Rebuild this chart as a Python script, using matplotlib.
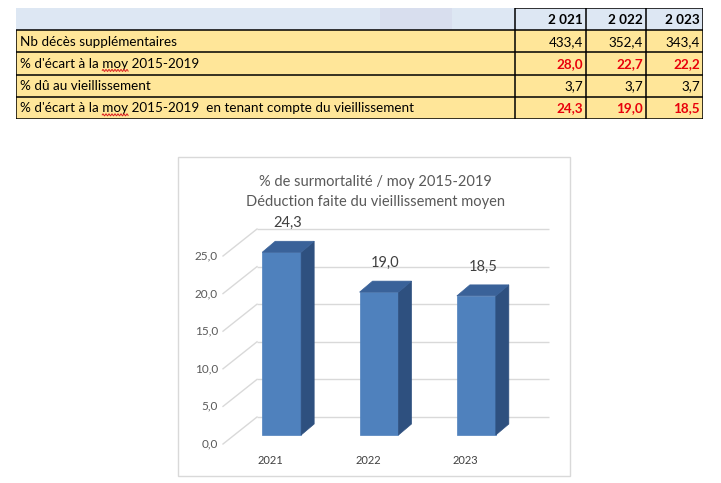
import numpy as np
import matplotlib
matplotlib.use("Agg")
import matplotlib.pyplot as plt
from matplotlib.patches import Rectangle, Polygon
from matplotlib.transforms import offset_copy, IdentityTransform
from matplotlib.lines import Line2D

# donnees du tableau
years = ["2 021", "2 022", "2 023"]
row_labels = ["Nb décès supplémentaires",
              "% d'écart à la moy 2015-2019",
              "% dû au vieillissement",
              "% d'écart à la moy 2015-2019  en tenant compte du vieillissement"]
deces_supp = [433.4, 352.4, 343.4]
ecart_moy = [28.0, 22.7, 22.2]
du_vieill = [3.7, 3.7, 3.7]
ecart_corrige = [24.3, 19.0, 18.5]
row_red = [False, True, False, True]

# donnees du graphique
bar_years = ["2021", "2022", "2023"]
y_ticks = [0, 5, 10, 15, 20, 25]

W, H = 721, 483
fig = plt.figure(figsize=(W / 100, H / 100), dpi=100)
fig.patch.set_facecolor("white")

FONT = "Lato"
YELLOW = "#FFE699"
BLUE_HDR = "#DDE7F3"
RED = "#E8000B"
TFS = 9.7


def fmt(v):
    return f"{v:.1f}".replace(".", ",")


# ---------------- TABLEAU ----------------
col_edges = [16, 515, 586, 646, 703]
ax_t = fig.add_axes([16 / W, 1 - 119 / H, 687 / W, 111 / H])
ax_t.set_xlim(16, 703)
ax_t.set_ylim(5, 0)
ax_t.axis("off")

# entete bleu clair
ax_t.add_patch(Rectangle((16, 0), 687, 1, facecolor=BLUE_HDR, edgecolor="none"))
ax_t.add_patch(Rectangle((380, 0), 72, 1, facecolor="#D8DEEE", edgecolor="none"))

table_rows = [deces_supp, ecart_moy, du_vieill, ecart_corrige]
for r, (lab, vals) in enumerate(zip(row_labels, table_rows), start=1):
    ax_t.add_patch(Rectangle((16, r), 687, 1, facecolor=YELLOW, edgecolor="none"))
    ax_t.text(20, r + 0.52, lab, fontsize=TFS, family=FONT, va="center", ha="left", color="black")
    for c, v in enumerate(vals):
        ax_t.text(col_edges[c + 2] - 3, r + 0.52, fmt(v), fontsize=TFS, family=FONT,
                  va="center", ha="right",
                  color=RED if row_red[r - 1] else "black",
                  fontweight="bold" if row_red[r - 1] else "normal")

for c, y in enumerate(years):
    ax_t.text(col_edges[c + 2] - 3, 0.55, y, fontsize=TFS, family=FONT, va="center",
              ha="right", fontweight="bold")

lk = dict(color="black", lw=1.1, solid_capstyle="butt")
# lignes horizontales
ax_t.plot([515, 703], [0, 0], **lk)
for r in range(1, 6):
    ax_t.plot([16, 703], [r, r], **lk)
# lignes verticales
ax_t.plot([16, 16], [1, 5], **lk)
for x in col_edges[1:]:
    ax_t.plot([x, x], [0, 5], **lk)

# soulignement ondule rouge sous "moy"
fig.canvas.draw()
rend = fig.canvas.get_renderer()
for r in (2, 4):
    pre = ax_t.text(20, r + 0.52, "% d'écart à la ", fontsize=TFS, family=FONT, va="center")
    moy = ax_t.text(20, r + 0.52, "% d'écart à la moy", fontsize=TFS, family=FONT, va="center")
    x0 = pre.get_window_extent(rend).x1
    x1 = moy.get_window_extent(rend).x1
    yb = moy.get_window_extent(rend).y0
    pre.remove()
    moy.remove()
    xs = np.linspace(x0, x1, 60)
    ys = yb - 0.5 + 1.0 * np.sin((xs - x0) * 2 * np.pi / 3.0)
    fig.add_artist(Line2D(xs, ys, color="#D22", lw=0.7, transform=IdentityTransform()))

# ---------------- GRAPHIQUE ----------------
fig.add_artist(Rectangle((178 / W, 1 - 476 / H), 392 / W, 319 / H, transform=fig.transFigure,
                         facecolor="white", edgecolor="#D9D9D9", lw=1, zorder=-1))

fig.text(375 / W, 1 - 182 / H, "% de surmortalité / moy 2015-2019", ha="center", va="center",
         fontsize=10.5, family=FONT, color="#595959")
fig.text(375 / W, 1 - 202 / H, "Déduction faite du vieillissement moyen", ha="center", va="center",
         fontsize=10.5, family=FONT, color="#595959")

# axes = paroi du fond
ax = fig.add_axes([257 / W, 1 - 417 / H, 292 / W, 188 / H])
ax.set_xlim(-0.49, 2.51)
ax.set_ylim(0, 25)
ax.set_xticks([])
ax.set_yticks([])
for s in ax.spines.values():
    s.set_visible(False)
ax.patch.set_alpha(0)
ax.hlines(y_ticks, *ax.get_xlim(), color="#D9D9D9", lw=1, clip_on=False, zorder=1)

xpos = np.arange(len(bar_years))
bw = 0.4
front = offset_copy(ax.transData, fig=fig, x=-23, y=-18, units="dots")
plane = offset_copy(ax.transData, fig=fig, x=-34, y=-27, units="dots")
depth = np.array([13, 11])

# diagonales des parois + libelles de l'axe y
for v in y_ticks:
    p0 = plane.transform((ax.get_xlim()[0], v))
    p1 = ax.transData.transform((ax.get_xlim()[0], v))
    fig.add_artist(Line2D([p0[0], p1[0]], [p0[1], p1[1]], color="#D9D9D9", lw=1,
                          transform=IdentityTransform(), zorder=0.5))
    ax.text(ax.get_xlim()[0], v, fmt(v), transform=offset_copy(plane, fig=fig, x=-5, y=0, units="dots"),
            ha="right", va="center", fontsize=8.5, family=FONT, color="#595959")

ax.bar(xpos, ecart_corrige, width=bw, color="#4F81BD", edgecolor="#4F81BD", lw=0.5,
       transform=front, zorder=3, clip_on=False)

for x, h in zip(xpos, ecart_corrige):
    pts = front.transform([(x - bw / 2, 0), (x + bw / 2, 0), (x + bw / 2, h), (x - bw / 2, h)])
    side = [pts[1], pts[1] + depth, pts[2] + depth, pts[2]]
    top = [pts[3], pts[2], pts[2] + depth, pts[3] + depth]
    fig.add_artist(Polygon(side, closed=True, facecolor="#2E507F", edgecolor="#2E507F", lw=0.5,
                           transform=IdentityTransform()))
    fig.add_artist(Polygon(top, closed=True, facecolor="#3A6299", edgecolor="#3A6299", lw=0.5,
                           transform=IdentityTransform()))
    ax.text(x, h, fmt(h), transform=offset_copy(front, fig=fig, x=6.5, y=29, units="dots"),
            ha="center", va="center", fontsize=10.5, family=FONT, color="#404040")

for x, lab in zip(xpos, bar_years):
    ax.text(x, 0, lab, transform=offset_copy(plane, fig=fig, x=0, y=-16, units="dots"),
            ha="center", va="center", fontsize=8, family=FONT, color="#404040")

fig.savefig("out.png", dpi=100)
